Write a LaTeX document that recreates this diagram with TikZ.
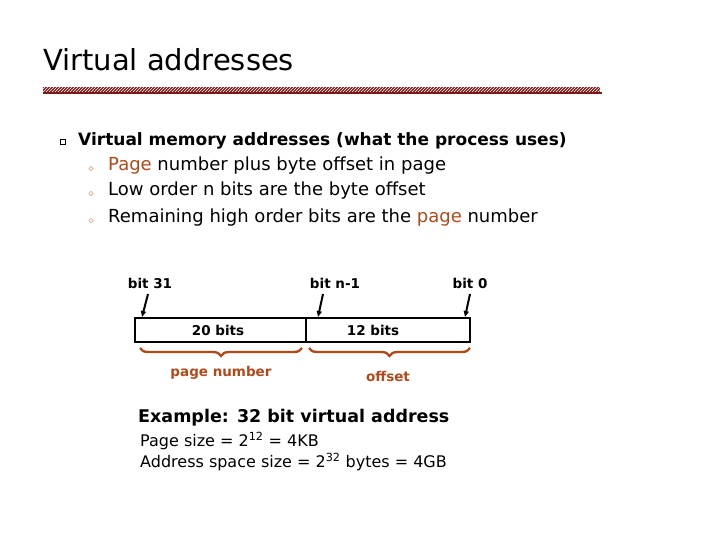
\documentclass[tikz,border=0pt]{standalone}
\usepackage{fontspec}
\setmainfont{DejaVu Sans}
\usetikzlibrary{decorations.pathreplacing,patterns,arrows.meta}
\definecolor{rust}{HTML}{B04A1A}
\definecolor{bar}{HTML}{7A1A1A}
\begin{document}
\begin{tikzpicture}[x=1pt,y=-1pt,
  txt/.style={anchor=west,inner sep=0pt,font=\fontsize{18}{18}\selectfont},
  lab/.style={inner sep=0pt,font=\bfseries\fontsize{13.5}{13.5}\selectfont},
  ptr/.style={-{Triangle[length=6pt,width=5pt]},line width=2pt},
  brc/.style={decorate,decoration={brace,mirror,amplitude=8pt},draw=rust,line width=2.4pt}]
\useasboundingbox (0,0) rectangle (720,540);
\node[anchor=west,inner sep=0pt,font=\fontsize{29}{29}\selectfont] (title) at (43,60) {Virtual addresses};
\fill[bar] (43,87) rectangle (600,93);
\fill[pattern=north east lines,pattern color=white] (43,87) rectangle (600,92);
\fill[bar] (43,92) rectangle (602,94);
\node[draw,inner sep=0pt,minimum size=5pt,line width=0.6pt] (b0) at (63,142) {};
\node[txt,font=\bfseries\fontsize{17}{17}\selectfont] (l0) at (78,141) {Virtual memory addresses (what the process uses)};
\foreach \y/\t [count=\i] in {166/{\textcolor{rust}{Page} number plus byte offset in page},191/{Low order n bits are the byte offset},218/{Remaining high order bits are the \textcolor{rust}{page} number}}{
  \node[inner sep=0pt,font=\fontsize{10}{10}\selectfont,text=rust] (d\i) at (91,\y+3) {$\diamond$};
  \node[txt] (l\i) at (108,\y) {\t};
}
\node[lab] (b31) at (150,283) {bit 31};
\node[lab] (bn) at (335,283) {bit n-1};
\node[lab] (bz) at (470,283) {bit 0};
\draw[line width=2.4pt] (135,318) rectangle (470,342);
\draw[line width=1.5pt] (306,318) -- (306,342);
\node[lab] (f20) at (218,330) {20 bits};
\node[lab] (f12) at (373,330) {12 bits};
\draw[ptr] (148,294) -- (142,317);
\draw[ptr] (323,294) -- (318,317);
\draw[ptr] (470,294) -- (465,317);
\draw[brc] (140,348) -- (302,348);
\draw[brc] (309,348) -- (470,348);
\node[lab,text=rust] (pn) at (221,373) {page number};
\node[lab,text=rust] (of) at (388,376) {offset};
\node[anchor=west,inner sep=0pt,font=\bfseries\fontsize{17.5}{17.5}\selectfont] (ex) at (138,418) {Example: 32 bit virtual address};
\node[anchor=west,inner sep=0pt,font=\fontsize{16}{16}\selectfont] (ps) at (140,441) {Page size = 2\textsuperscript{12} = 4KB};
\node[anchor=west,inner sep=0pt,font=\fontsize{16}{16}\selectfont] (as) at (140,462) {Address space size = 2\textsuperscript{32} bytes = 4GB};
\end{tikzpicture}
\end{document}
